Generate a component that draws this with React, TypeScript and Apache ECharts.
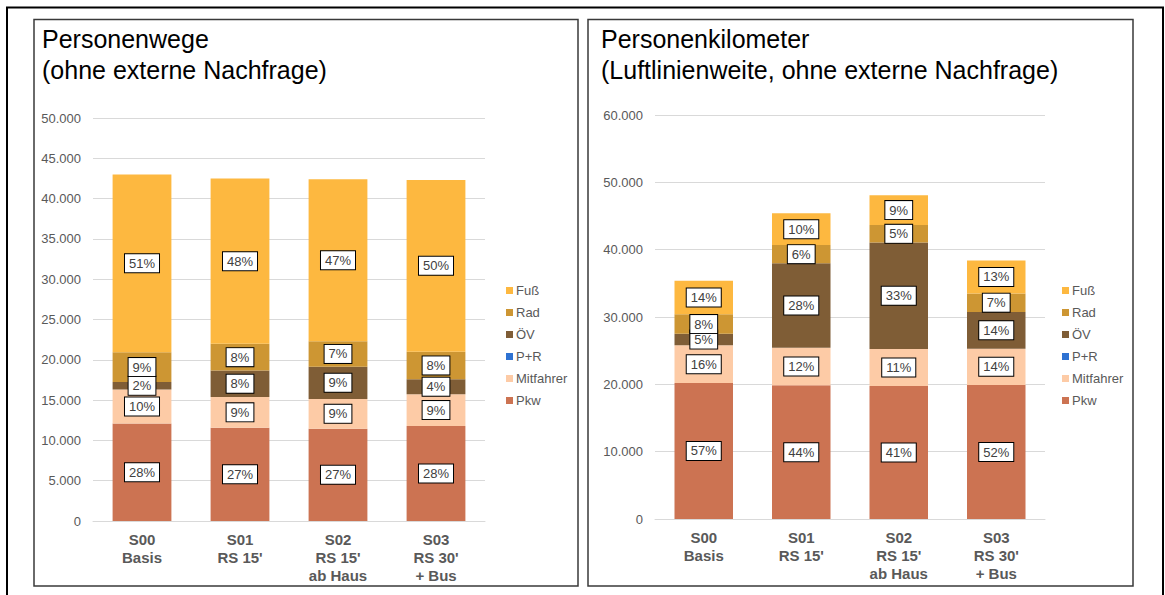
import React, { useEffect, useRef } from "react";
import * as echarts from "echarts";

// Scenario categories (x axis)
const scenarios = ["S00\nBasis", "S01\nRS 15'", "S02\nRS 15'\nab Haus", "S03\nRS 30'\n+ Bus"];

// Transport modes, bottom to top of the stack
const modes = ["Pkw", "Mitfahrer", "P+R", "ÖV", "Rad", "Fuß"];
const modeColors = ["#CC7352", "#FDCBA6", "#2E72D2", "#7F5D36", "#CD9633", "#FDB840"];
const legendOrder = ["Fuß", "Rad", "ÖV", "P+R", "Mitfahrer", "Pkw"];

// Personenwege (ohne externe Nachfrage)
const wegePkw = [12100, 11580, 11450, 11800];
const wegeMitfahrer = [4200, 3800, 3700, 3930];
const wegePR = [0, 0, 0, 0];
const wegeOEV = [950, 3300, 4000, 1860];
const wegeRad = [3700, 3300, 3150, 3420];
const wegeFuss = [22050, 20500, 20100, 21300];

// Personenkilometer (Luftlinienweite, ohne externe Nachfrage)
const kmPkw = [20200, 19850, 19750, 19900];
const kmMitfahrer = [5600, 5590, 5500, 5400];
const kmPR = [0, 0, 0, 0];
const kmOEV = [1700, 12530, 15800, 5450];
const kmRad = [2900, 2730, 2600, 2750];
const kmFuss = [5000, 4700, 4450, 4900];

// Value axis ranges
const wegeAxis = { max: 50000, interval: 5000 };
const kmAxis = { max: 60000, interval: 10000 };

const wegeData = [wegePkw, wegeMitfahrer, wegePR, wegeOEV, wegeRad, wegeFuss];
const kmData = [kmPkw, kmMitfahrer, kmPR, kmOEV, kmRad, kmFuss];

const FONT = "Arial, 'Liberation Sans', sans-serif";
const GREY = "#595959";

const formatThousands = (v: number) => {
  if (v === 0) return "0";
  const s = String(Math.round(v));
  return s.replace(/\B(?=(\d{3})+(?!\d))/g, ".");
};

const columnTotals = (data: number[][]) =>
  scenarios.map((_, i) => data.reduce((sum, arr) => sum + arr[i], 0));

function buildSeries(data: number[][], axisIndex: number) {
  const totals = columnTotals(data);
  return modes.map((name, k) => ({
    name,
    type: "bar",
    stack: "total" + axisIndex,
    xAxisIndex: axisIndex,
    yAxisIndex: axisIndex,
    barWidth: "60%",
    data: data[k],
    itemStyle: { color: modeColors[k] },
    emphasis: { disabled: true },
    label: {
      show: name !== "P+R",
      position: "inside",
      formatter: (p: any) => Math.round((p.value / totals[p.dataIndex]) * 100) + "%",
      fontFamily: FONT,
      fontSize: 13,
      color: "#404040",
      backgroundColor: "#ffffff",
      borderColor: "#000000",
      borderWidth: 1,
      padding: [3, 4, 2, 4],
    },
  }));
}

function xAxisCfg(gridIndex: number) {
  return {
    type: "category",
    gridIndex,
    data: scenarios,
    axisTick: { show: false },
    axisLine: { show: true, lineStyle: { color: "#D9D9D9", width: 1 } },
    axisLabel: {
      fontFamily: FONT,
      fontSize: 15,
      fontWeight: "bold",
      color: GREY,
      lineHeight: 18,
      margin: 9,
      interval: 0,
    },
  };
}

function yAxisCfg(gridIndex: number, range: { max: number; interval: number }) {
  return {
    type: "value",
    gridIndex,
    min: 0,
    max: range.max,
    interval: range.interval,
    axisLine: { show: false },
    axisTick: { show: false },
    splitLine: { lineStyle: { color: "#D9D9D9", width: 1 } },
    axisLabel: {
      fontFamily: FONT,
      fontSize: 13,
      color: GREY,
      margin: 12,
      formatter: formatThousands,
    },
  };
}

function legendCfg(left: number) {
  return {
    orient: "vertical",
    left,
    top: 278,
    data: legendOrder,
    icon: "rect",
    itemWidth: 7,
    itemHeight: 7,
    itemGap: 7,
    selectedMode: false,
    textStyle: { fontFamily: FONT, fontSize: 13, color: GREY, lineHeight: 15, padding: [0, 0, 0, -2] },
  };
}

const titleStyle = { fontFamily: FONT, fontSize: 25, lineHeight: 31, fontWeight: "normal", color: "#000000" };

export default function App() {
  const ref = useRef<HTMLDivElement>(null);

  useEffect(() => {
    document.body.style.margin = "0";
    if (!ref.current) return;
    const chart = echarts.init(ref.current, null, { renderer: "svg" });

    const option: any = {
      animation: false,
      backgroundColor: "#ffffff",
      title: [
        { text: "Personenwege\n(ohne externe Nachfrage)", left: 37, top: 18, textStyle: titleStyle },
        { text: "Personenkilometer\n(Luftlinienweite, ohne externe Nachfrage)", left: 596, top: 18, textStyle: titleStyle },
      ],
      legend: [legendCfg(501), legendCfg(1057)],
      grid: [
        { left: 93, top: 118, width: 392, height: 403 },
        { left: 655, top: 115, width: 390, height: 404 },
      ],
      xAxis: [xAxisCfg(0), xAxisCfg(1)],
      yAxis: [yAxisCfg(0, wegeAxis), yAxisCfg(1, kmAxis)],
      series: [...buildSeries(wegeData, 0), ...buildSeries(kmData, 1)],
      graphic: [
        {
          type: "polyline",
          shape: { points: [[7, 600], [7, 7.5], [1163, 7.5], [1163, 600]] },
          style: { stroke: "#000000", lineWidth: 2, fill: null },
          silent: true,
        },
        {
          type: "rect",
          shape: { x: 34, y: 19.5, width: 544, height: 566.5 },
          style: { stroke: "#3a3a3a", lineWidth: 1.5, fill: null },
          silent: true,
        },
        {
          type: "rect",
          shape: { x: 588, y: 19.5, width: 545, height: 566.5 },
          style: { stroke: "#3a3a3a", lineWidth: 1.5, fill: null },
          silent: true,
        },
      ],
    };

    chart.setOption(option);
    return () => chart.dispose();
  }, []);

  return <div ref={ref} style={{ width: 1165, height: 595 }} />;
}
